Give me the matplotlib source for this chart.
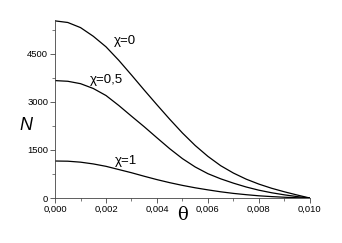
import matplotlib
matplotlib.use("Agg")
import matplotlib.pyplot as plt
from matplotlib.ticker import FuncFormatter, MultipleLocator

theta = [0.0, 0.0005, 0.001, 0.0015, 0.002, 0.0025, 0.003, 0.0035, 0.004, 0.0045,
         0.005, 0.0055, 0.006, 0.0065, 0.007, 0.0075, 0.008, 0.0085, 0.009, 0.0095, 0.010]
n_chi0 = [5530, 5480, 5320, 5050, 4720, 4300, 3840, 3370, 2910, 2460,
          2030, 1640, 1300, 1010, 780, 590, 435, 305, 195, 95, 0]
n_chi05 = [3666, 3645, 3570, 3420, 3200, 2890, 2555, 2225, 1880, 1540,
           1230, 970, 760, 600, 465, 345, 245, 165, 100, 45, 0]
n_chi1 = [1156, 1150, 1120, 1065, 990, 890, 790, 680, 575, 480,
          395, 320, 255, 195, 145, 105, 70, 45, 25, 10, 0]
curve_labels = ["\u03c7=0", "\u03c7=0,5", "\u03c7=1"]

plt.rcParams["font.family"] = ["Liberation Sans", "DejaVu Sans"]

fig = plt.figure(figsize=(3.42, 2.43), dpi=100)
ax = fig.add_axes([0.161, 0.185, 0.745, 0.733])

for n in (n_chi0, n_chi05, n_chi1):
    ax.plot(theta, n, color="black", lw=0.9)

ax.set_xlim(0, 0.010)
ax.set_ylim(0, 5560)
ax.spines["top"].set_visible(False)
ax.spines["right"].set_visible(False)
for s in ("left", "bottom"):
    ax.spines[s].set_linewidth(0.6)
    ax.spines[s].set_color("#444444")

ax.xaxis.set_major_locator(MultipleLocator(0.002))
ax.xaxis.set_minor_locator(MultipleLocator(0.001))
ax.yaxis.set_major_locator(MultipleLocator(1500))
ax.yaxis.set_minor_locator(MultipleLocator(750))
ax.xaxis.set_major_formatter(FuncFormatter(lambda v, p: f"{v:.3f}".replace(".", ",")))
ax.yaxis.set_major_formatter(FuncFormatter(lambda v, p: f"{v:.0f}"))
ax.tick_params(which="major", direction="out", length=3.5, width=0.6, labelsize=6.8, pad=1.5, color="#444444")
ax.tick_params(which="minor", direction="out", length=2, width=0.5, color="#444444")

# curve labels, sitting just above/right of their curves
ax.text(0.00275, 4900, curve_labels[0], fontsize=9.5, ha="center", va="center")
ax.text(0.00202, 3680, curve_labels[1], fontsize=9.5, ha="center", va="center")
ax.text(0.00280, 1160, curve_labels[2], fontsize=9.5, ha="center", va="center")

fig.text(0.076, 0.482, "N", fontsize=13, style="italic", ha="center", va="center")
fig.text(0.534, 0.115, "\u03b8", fontsize=13, family=["DejaVu Serif"], ha="center", va="center")

fig.savefig("out.png", dpi=100)
